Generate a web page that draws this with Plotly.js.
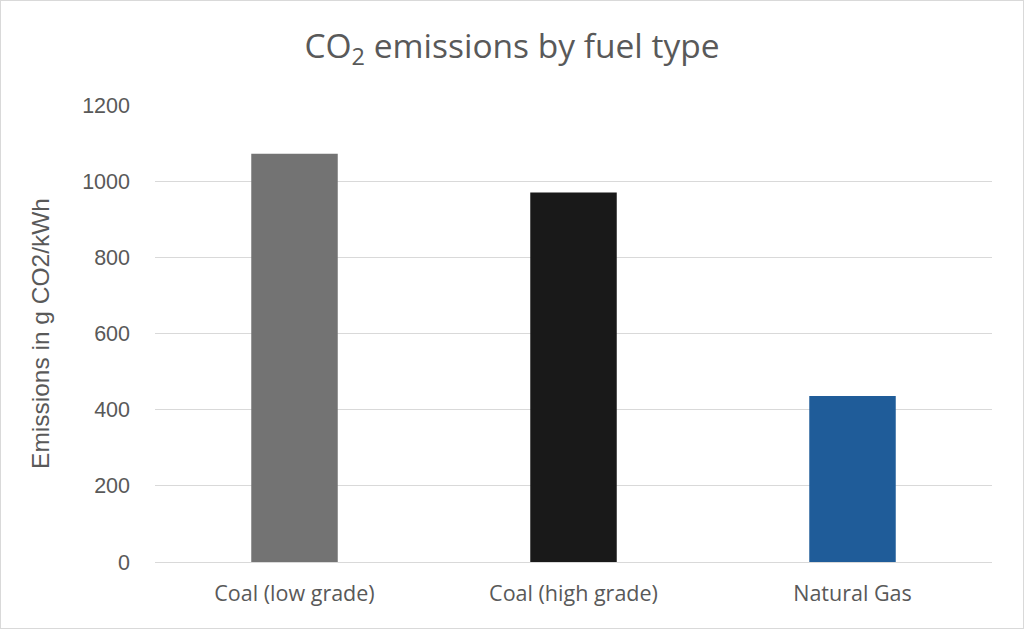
<!DOCTYPE html>
<html>
<head>
<meta charset="utf-8">
<script src="https://cdn.plot.ly/plotly-3.0.1.min.js"></script>
<style>
html,body{margin:0;padding:0;background:#fff;}
#wrap{width:1024px;height:629px;box-sizing:border-box;border:1px solid #D9D9D9;}
#chart{width:1022px;height:627px;}
</style>
</head>
<body>
<div id="wrap"><div id="chart"></div></div>
<script>
const categories = ["Coal (low grade)", "Coal (high grade)", "Natural Gas"];
const emissions = [1072, 970, 436];
const barColors = ["#737373", "#191919", "#1F5C99"];
const yTicks = [0, 200, 400, 600, 800, 1000, 1200];

const trace = {
  type: "bar",
  x: categories,
  y: emissions,
  marker: {color: barColors, line: {width: 0}},
  hoverinfo: "x+y"
};

const layout = {
  width: 1022,
  height: 627,
  margin: {l: 154, r: 31, t: 104, b: 66},
  paper_bgcolor: "#ffffff",
  plot_bgcolor: "#ffffff",
  bargap: 0.69,
  showlegend: false,
  title: {
    text: "CO<sub>2</sub> emissions by fuel type",
    font: {family: "Open Sans, Lato, sans-serif", size: 33.5, color: "#595959"},
    x: 0.5, xanchor: "center", y: 0.928, yanchor: "middle"
  },
  xaxis: {
    type: "category",
    showgrid: false,
    showline: true,
    linecolor: "#D9D9D9",
    linewidth: 1,
    ticks: "",
    tickfont: {family: "Open Sans, Lato, sans-serif", size: 21.5, color: "#595959"},
    ticklabelstandoff: 12
  },
  yaxis: {
    range: [0, 1200],
    tickvals: yTicks,
    ticktext: yTicks.map(String),
    showgrid: true,
    gridcolor: "#D9D9D9",
    gridwidth: 1,
    zeroline: false,
    showline: false,
    ticks: "",
    tickfont: {family: "Liberation Sans, Arial, sans-serif", size: 21.5, color: "#595959"},
    ticklabelstandoff: 24,
    title: {
      text: "Emissions in g CO2/kWh",
      font: {family: "Liberation Sans, Arial, sans-serif", size: 24.5, color: "#595959"},
      standoff: 25
    }
  }
};

Plotly.newPlot("chart", [trace], layout, {displayModeBar: false, staticPlot: true});
</script>
</body>
</html>
